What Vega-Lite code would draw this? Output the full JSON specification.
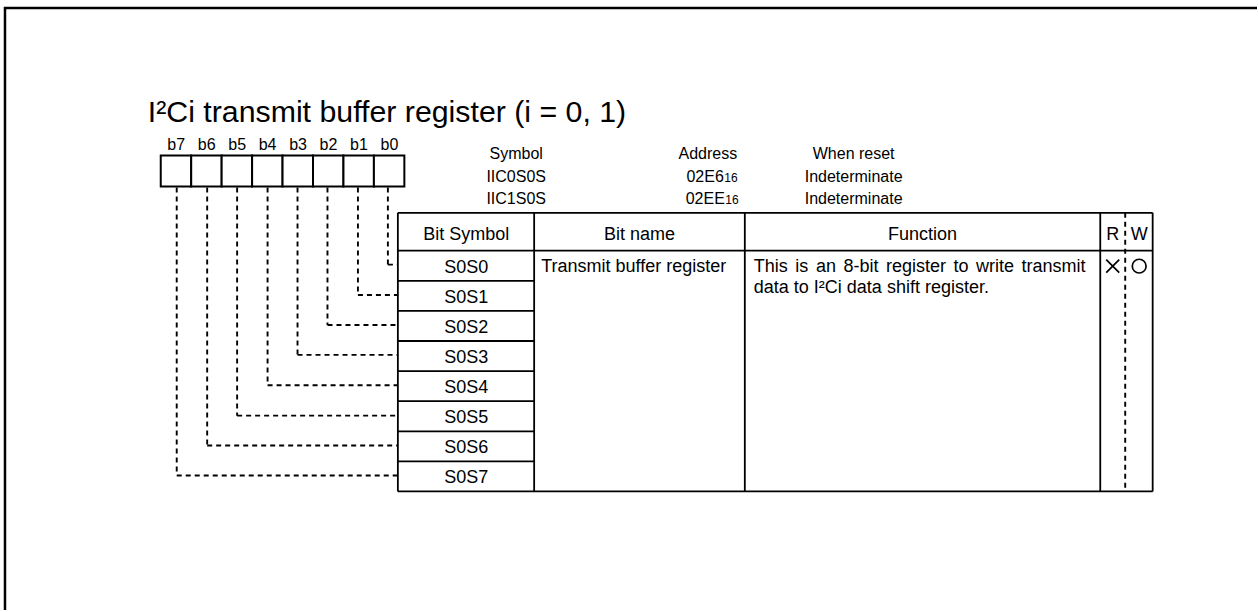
{
  "$schema": "https://vega.github.io/schema/vega-lite/v6.json",
  "width": 1259,
  "height": 612,
  "padding": 0,
  "autosize": {"type": "fit", "contains": "padding"},
  "config": {"view": {"stroke": null}, "font": "Liberation Sans"},
  "datasets": {
    "frame": [
      {"x1": 4, "y1": 8, "x2": 1259, "y2": 8},
      {"x1": 5, "y1": 7, "x2": 5, "y2": 612}
    ],
    "boxes": [
      {"bit": "b7", "x1": 161, "x2": 191.5, "y1": 156, "y2": 187},
      {"bit": "b6", "x1": 191.5, "x2": 222, "y1": 156, "y2": 187},
      {"bit": "b5", "x1": 222, "x2": 252.5, "y1": 156, "y2": 187},
      {"bit": "b4", "x1": 252.5, "x2": 283, "y1": 156, "y2": 187},
      {"bit": "b3", "x1": 283, "x2": 313.5, "y1": 156, "y2": 187},
      {"bit": "b2", "x1": 313.5, "x2": 344, "y1": 156, "y2": 187},
      {"bit": "b1", "x1": 344, "x2": 374.5, "y1": 156, "y2": 187},
      {"bit": "b0", "x1": 374.5, "x2": 405, "y1": 156, "y2": 187}
    ],
    "bitlabels": [
      {"label": "b7", "x": 176.5, "y": 145.5},
      {"label": "b6", "x": 207, "y": 145.5},
      {"label": "b5", "x": 237.5, "y": 145.5},
      {"label": "b4", "x": 268, "y": 145.5},
      {"label": "b3", "x": 298.5, "y": 145.5},
      {"label": "b2", "x": 329, "y": 145.5},
      {"label": "b1", "x": 359.5, "y": 145.5},
      {"label": "b0", "x": 390, "y": 145.5}
    ],
    "dashed": [
      {"x1": 388.5, "y1": 188, "x2": 388.5, "y2": 265.5},
      {"x1": 388.5, "y1": 265.5, "x2": 398, "y2": 265.5},
      {"x1": 358.5, "y1": 188, "x2": 358.5, "y2": 296},
      {"x1": 358.5, "y1": 296, "x2": 398, "y2": 296},
      {"x1": 328, "y1": 188, "x2": 328, "y2": 326},
      {"x1": 328, "y1": 326, "x2": 398, "y2": 326},
      {"x1": 298, "y1": 188, "x2": 298, "y2": 356},
      {"x1": 298, "y1": 356, "x2": 398, "y2": 356},
      {"x1": 268, "y1": 188, "x2": 268, "y2": 386.5},
      {"x1": 268, "y1": 386.5, "x2": 398, "y2": 386.5},
      {"x1": 237.5, "y1": 188, "x2": 237.5, "y2": 417},
      {"x1": 237.5, "y1": 417, "x2": 398, "y2": 417},
      {"x1": 207.5, "y1": 188, "x2": 207.5, "y2": 447},
      {"x1": 207.5, "y1": 447, "x2": 398, "y2": 447},
      {"x1": 177, "y1": 188, "x2": 177, "y2": 477},
      {"x1": 177, "y1": 477, "x2": 398, "y2": 477},
      {"x1": 1127, "y1": 213.5, "x2": 1127, "y2": 493}
    ],
    "table": [
      {"x1": 398.5, "y1": 213.5, "x2": 1154.5, "y2": 213.5},
      {"x1": 398.5, "y1": 251.5, "x2": 1154.5, "y2": 251.5},
      {"x1": 398.5, "y1": 493, "x2": 1154.5, "y2": 493},
      {"x1": 398.5, "y1": 213.5, "x2": 398.5, "y2": 493},
      {"x1": 535, "y1": 213.5, "x2": 535, "y2": 493},
      {"x1": 746, "y1": 213.5, "x2": 746, "y2": 493},
      {"x1": 1102, "y1": 213.5, "x2": 1102, "y2": 493},
      {"x1": 1154.5, "y1": 213.5, "x2": 1154.5, "y2": 493},
      {"x1": 398.5, "y1": 281.7, "x2": 535, "y2": 281.7},
      {"x1": 398.5, "y1": 311.9, "x2": 535, "y2": 311.9},
      {"x1": 398.5, "y1": 342.1, "x2": 535, "y2": 342.1},
      {"x1": 398.5, "y1": 372.3, "x2": 535, "y2": 372.3},
      {"x1": 398.5, "y1": 402.5, "x2": 535, "y2": 402.5},
      {"x1": 398.5, "y1": 432.7, "x2": 535, "y2": 432.7},
      {"x1": 398.5, "y1": 462.9, "x2": 535, "y2": 462.9}
    ],
    "title": [
      {"label": "I²Ci transmit buffer register (i = 0, 1)", "x": 148, "y": 122}
    ],
    "info": [
      {"label": "Symbol", "x": 517, "y": 160},
      {"label": "IIC0S0S", "x": 517, "y": 182.5},
      {"label": "IIC1S0S", "x": 517, "y": 205},
      {"label": "Address", "x": 709, "y": 160},
      {"label": "When reset", "x": 855, "y": 160},
      {"label": "Indeterminate", "x": 855, "y": 182.5},
      {"label": "Indeterminate", "x": 855, "y": 205}
    ],
    "addr": [
      {"label": "02E6", "x": 725, "y": 182.5},
      {"label": "02EE", "x": 726, "y": 205}
    ],
    "addrsub": [
      {"label": "16", "x": 725.5, "y": 182.5},
      {"label": "16", "x": 726.5, "y": 205}
    ],
    "cells": [
      {"label": "Bit Symbol", "x": 467, "y": 236},
      {"label": "Bit name", "x": 640.5, "y": 236},
      {"label": "Function", "x": 924, "y": 236},
      {"label": "R", "x": 1114.5, "y": 236},
      {"label": "W", "x": 1141, "y": 236},
      {"label": "S0S0", "x": 467, "y": 268.6},
      {"label": "S0S1", "x": 467, "y": 298.8},
      {"label": "S0S2", "x": 467, "y": 329},
      {"label": "S0S3", "x": 467, "y": 359.2},
      {"label": "S0S4", "x": 467, "y": 389.4},
      {"label": "S0S5", "x": 467, "y": 419.6},
      {"label": "S0S6", "x": 467, "y": 449.8},
      {"label": "S0S7", "x": 467, "y": 480}
    ],
    "lefttext": [
      {"label": "Transmit buffer register", "x": 542, "y": 267.5},
      {"label": "This", "x": 755, "y": 267.5},
      {"label": "is", "x": 796.6, "y": 267.5},
      {"label": "an", "x": 817.2, "y": 267.5},
      {"label": "8-bit", "x": 844.8, "y": 267.5},
      {"label": "register", "x": 887.4, "y": 267.5},
      {"label": "to", "x": 955, "y": 267.5},
      {"label": "write", "x": 977.6, "y": 267.5},
      {"label": "transmit", "x": 1023.2, "y": 267.5},
      {"label": "data to I²Ci data shift register.", "x": 755, "y": 288.5}
    ],
    "rw": [
      {"access": "R", "x": 1114.5, "y": 267},
      {"access": "W", "x": 1141, "y": 267}
    ]
  },
  "layer": [
    {
      "data": {"name": "frame"},
      "mark": {"type": "rule", "strokeWidth": 2.5, "color": "black"},
      "encoding": {
        "x": {"field": "x1", "type": "quantitative", "scale": {"domain": [0, 1259], "nice": false, "zero": false}, "axis": null},
        "x2": {"field": "x2"},
        "y": {"field": "y1", "type": "quantitative", "scale": {"domain": [0, 612], "nice": false, "zero": false, "reverse": true}, "axis": null},
        "y2": {"field": "y2"}
      }
    },
    {
      "data": {"name": "boxes"},
      "mark": {"type": "rect", "fill": "white", "stroke": "black", "strokeWidth": 2},
      "encoding": {
        "x": {"field": "x1", "type": "quantitative", "axis": null},
        "x2": {"field": "x2"},
        "y": {"field": "y1", "type": "quantitative", "axis": null},
        "y2": {"field": "y2"}
      }
    },
    {
      "data": {"name": "dashed"},
      "mark": {"type": "rule", "strokeWidth": 1.9, "color": "black", "strokeDash": [5, 4]},
      "encoding": {
        "x": {"field": "x1", "type": "quantitative", "axis": null},
        "x2": {"field": "x2"},
        "y": {"field": "y1", "type": "quantitative", "axis": null},
        "y2": {"field": "y2"}
      }
    },
    {
      "data": {"name": "table"},
      "mark": {"type": "rule", "strokeWidth": 1.8, "color": "black"},
      "encoding": {
        "x": {"field": "x1", "type": "quantitative", "axis": null},
        "x2": {"field": "x2"},
        "y": {"field": "y1", "type": "quantitative", "axis": null},
        "y2": {"field": "y2"}
      }
    },
    {
      "data": {"name": "title"},
      "mark": {"type": "text", "fontSize": 30.3, "align": "left", "baseline": "alphabetic", "color": "black"},
      "encoding": {
        "x": {"field": "x", "type": "quantitative", "axis": null},
        "y": {"field": "y", "type": "quantitative", "axis": null},
        "text": {"field": "label"}
      }
    },
    {
      "data": {"name": "bitlabels"},
      "mark": {"type": "text", "fontSize": 16, "align": "center", "baseline": "middle", "color": "black"},
      "encoding": {
        "x": {"field": "x", "type": "quantitative", "axis": null},
        "y": {"field": "y", "type": "quantitative", "axis": null},
        "text": {"field": "label"}
      }
    },
    {
      "data": {"name": "info"},
      "mark": {"type": "text", "fontSize": 16, "align": "center", "baseline": "alphabetic", "color": "black"},
      "encoding": {
        "x": {"field": "x", "type": "quantitative", "axis": null},
        "y": {"field": "y", "type": "quantitative", "axis": null},
        "text": {"field": "label"}
      }
    },
    {
      "data": {"name": "addr"},
      "mark": {"type": "text", "fontSize": 16, "align": "right", "baseline": "alphabetic", "color": "black"},
      "encoding": {
        "x": {"field": "x", "type": "quantitative", "axis": null},
        "y": {"field": "y", "type": "quantitative", "axis": null},
        "text": {"field": "label"}
      }
    },
    {
      "data": {"name": "addrsub"},
      "mark": {"type": "text", "fontSize": 12, "align": "left", "baseline": "alphabetic", "color": "black"},
      "encoding": {
        "x": {"field": "x", "type": "quantitative", "axis": null},
        "y": {"field": "y", "type": "quantitative", "axis": null},
        "text": {"field": "label"}
      }
    },
    {
      "data": {"name": "cells"},
      "mark": {"type": "text", "fontSize": 18, "align": "center", "baseline": "middle", "color": "black"},
      "encoding": {
        "x": {"field": "x", "type": "quantitative", "axis": null},
        "y": {"field": "y", "type": "quantitative", "axis": null},
        "text": {"field": "label"}
      }
    },
    {
      "data": {"name": "lefttext"},
      "mark": {"type": "text", "fontSize": 18, "align": "left", "baseline": "middle", "color": "black"},
      "encoding": {
        "x": {"field": "x", "type": "quantitative", "axis": null},
        "y": {"field": "y", "type": "quantitative", "axis": null},
        "text": {"field": "label"}
      }
    },
    {
      "data": {"name": "rw"},
      "transform": [{"filter": "datum.access === 'R'"}],
      "mark": {"type": "point", "shape": "M-1,-1L1,1M1,-1L-1,1", "size": 169, "filled": false, "stroke": "black", "strokeWidth": 1.7, "opacity": 1},
      "encoding": {
        "x": {"field": "x", "type": "quantitative", "axis": null},
        "y": {"field": "y", "type": "quantitative", "axis": null}
      }
    },
    {
      "data": {"name": "rw"},
      "transform": [{"filter": "datum.access === 'W'"}],
      "mark": {"type": "point", "shape": "circle", "size": 190, "filled": false, "stroke": "black", "strokeWidth": 1.7, "opacity": 1},
      "encoding": {
        "x": {"field": "x", "type": "quantitative", "axis": null},
        "y": {"field": "y", "type": "quantitative", "axis": null}
      }
    }
  ]
}
